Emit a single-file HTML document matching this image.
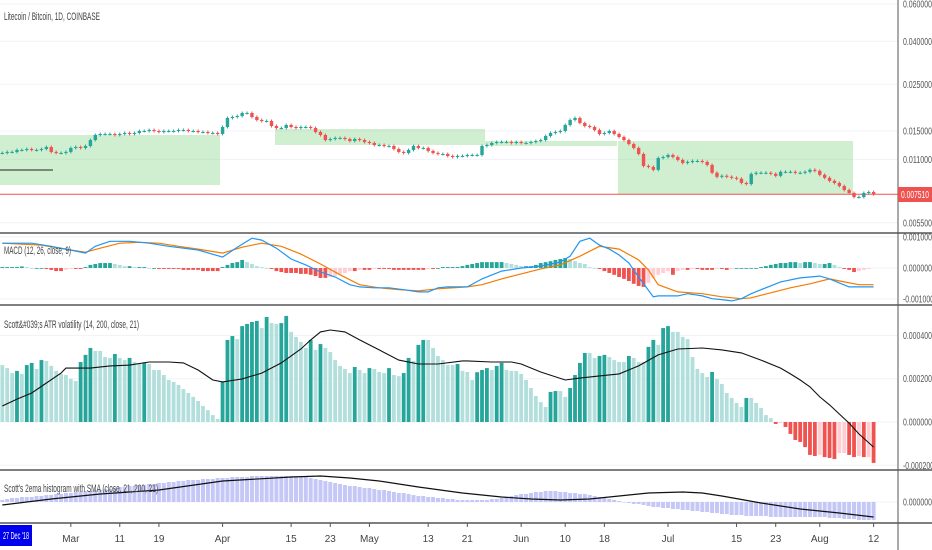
<!DOCTYPE html>
<html><head><meta charset="utf-8"><style>
html,body{margin:0;padding:0;background:#fff;}
svg{display:block;font-family:"Liberation Sans Narrow","Liberation Sans",sans-serif;}
</style></head><body>
<svg id="chart" width="932" height="550" viewBox="0 0 932 550" xmlns="http://www.w3.org/2000/svg">
<rect x="0" y="0" width="932" height="550" fill="#fff"/>
<g id="grid"></g>
<g id="boxes"></g>
<g id="candles"></g>
<g id="macd"></g>
<g id="atr"></g>
<g id="ema"></g>
<g id="axes"></g>
<text x="4" y="20" font-size="11" fill="#444" textLength="96" lengthAdjust="spacingAndGlyphs">Litecoin / Bitcoin, 1D, COINBASE</text>
<text x="4" y="254" font-size="11" fill="#444" textLength="67" lengthAdjust="spacingAndGlyphs">MACD (12, 26, close, 9)</text>
<text x="4" y="328" font-size="11" fill="#444" textLength="135" lengthAdjust="spacingAndGlyphs">Scott&amp;#039;s ATR volatility (14, 200, close, 21)</text>
<text x="4" y="492" font-size="11" fill="#444" textLength="154" lengthAdjust="spacingAndGlyphs">Scott's 2ema histogram with SMA (close, 21, 200, 21)</text>
</svg>
<script>
// ---- data ----
const closes = [.01180,.01193,.01193,.01219,.01219,.01232,.01219,.01219,.01232,.01259,
.01193,.01180,.01180,.01193,.01246,.01259,.01246,.01273,.01359,.01436,
.01452,.01452,.01452,.01436,.01452,.01468,.01452,.01468,.01500,.01500,
.01516,.01500,.01484,.01500,.01500,.01500,.01516,.01516,.01500,.01500,
.01484,.01484,.01468,.01468,.01452,
.01567,.01729,.01748,.01767,.01826,.01826,.01748,.01692,.01673,.01673,
.01584,.01550,.01550,.01602,.01567,.01550,.01567,.01567,.01550,.01484,
.01436,.01359,.01374,.01390,.01390,.01374,.01345,.01374,.01359,.01330,
.01316,.01287,.01287,.01273,.01273,.01232,.01193,.01180,.01219,.01273,
.01246,.01246,.01206,.01180,.01167,.01167,.01142,.01129,.01142,.01142,
.01154,.01154,.01154,.01273,.01287,.01316,.01330,.01330,.01330,.01316,
.01330,.01316,.01316,.01330,.01345,.01359,.01420,.01468,.01484,.01500,
.01602,.01692,.01729,.01637,.01584,.01567,.01516,.01452,.01468,.01500,
.01452,.01405,.01359,.01301,.01246,.01167,.01024,.01013,.00981,.01117,
.01129,.01154,.01129,.01093,.01058,.01070,.01081,.01081,.01070,.01035,
.00950,.00909,.00919,.00909,.00899,.00890,.00850,.00840,.00939,.00950,
.00950,.00950,.00939,.00919,.00960,.00960,.00960,.00950,.00950,.00960,
.00981,.00970,.00929,.00899,.00870,.00850,.00822,.00787,.00762,.00729,
.00729,.00762,.00770,.00751];
const priceTicks = [0.06,0.04,0.025,0.015,0.011,0.0055];
const priceTickLabels = ["0.060000","0.040000","0.025000","0.015000","0.011000","0.005500"];
const lastPrice = 0.00751;
// MACD values in 1e-5 units
const macdHist = [3,3,3,3,5,3,0,0,0,-3,-6,-10,-10,-6,-3,-3,-3,3,10,13,16,16,16,13,10,6,6,3,3,3,
0,0,-3,-3,-3,-3,-3,-6,-6,-6,-6,-10,-10,-10,-10,3,10,16,19,26,19,13,6,3,0,-3,-10,-13,-16,-16,
-16,-19,-19,-22,-26,-32,-32,-29,-26,-19,-16,-10,-10,-6,-6,-6,-3,-3,-3,-3,-6,-6,-6,-6,-6,-6,-6,-3,-3,0,
3,3,3,3,6,10,13,16,19,19,19,19,19,16,13,10,6,6,6,10,16,19,22,26,29,32,29,22,16,13,
3,0,-3,-10,-16,-22,-29,-35,-42,-51,-58,-61,-48,-32,-22,-16,-10,-22,-10,-6,-6,-3,-3,-6,-6,-6,-3,-3,-6,-3,
0,0,0,0,0,3,6,10,13,16,16,19,19,16,19,19,16,13,13,16,10,3,-3,-6,-13,-10,-6,-3];
const macdDays = [0,6,10,13,17,19,22,26,30,34,40,45,48,51,53,56,59,62,65,68,71,73,76,79,82,85,87,89,91,95,98,102,106,110,114,116,118,120,122,124,126,128,130,133,134,138,140,143,145,147,149,151,153,155,159,163,167,169,171,173,178];
const macdLine = [80,80,70,61,48,70,86,86,80,70,58,35,67,96,90,64,29,10,-13,-29,-54,-61,-64,-64,-70,-77,-77,-64,-61,-61,-35,-10,0,6,19,38,86,96,74,61,42,16,-29,-93,-90,-90,-83,-90,-99,-102,-106,-99,-83,-70,-45,-32,-26,-35,-48,-61,-61];
const signalDays = [0,8,14,17,20,24,28,32,36,40,45,49,53,57,61,65,69,73,77,81,85,89,95,98,102,106,110,114,118,122,126,130,132,134,138,143,147,151,153,157,161,165,169,172,175,178];
const signalLine = [80,74,58,51,64,80,83,80,70,61,48,67,80,70,45,13,-22,-54,-64,-70,-74,-67,-61,-54,-35,-19,-3,10,38,70,61,26,-6,-54,-77,-83,-93,-99,-96,-80,-64,-51,-35,-45,-54,-54];
const macdTickLabels = ["0.001000","0.000000","-0.001000"];
const macdTicks = [100,0,-100];
// ATR values in 1e-6 units
const atrVals = [263,249,226,236,222,263,273,245,286,282,259,236,222,217,199,189,277,310,342,328,
328,300,296,314,296,286,296,277,268,275,268,240,240,217,194,185,171,152,134,116,
97,74,55,32,14,185,379,397,383,443,453,462,467,434,485,457,453,457,490,416,
393,370,342,379,333,360,342,323,286,259,245,226,254,240,226,249,245,231,226,249,
217,212,226,296,282,356,379,379,342,305,286,263,263,268,236,231,194,230,240,
249,240,259,273,240,236,236,222,194,157,120,92,69,139,143,143,116,157,217,273,
319,319,296,305,310,300,286,277,277,305,296,277,277,347,379,356,434,443,416,416,
393,383,300,245,226,208,231,199,176,134,111,88,69,111,111,88,65,32,18,-9,
-5,-23,-55,-83,-92,-116,-152,-157,-152,-162,-166,-171,-143,-143,-152,-162,-157,-162,-162,-189];
const atrSmaDays = [0,3,6,9,12,13,15,18,22,26,30,34,37,40,43,45,49,53,57,61,63,65,67,70,73,77,81,85,89,94,95,100,104,106,110,115,118,122,126,130,134,138,143,147,151,155,159,161,163,165,167,169,171,173,175,178];
const atrSma = [74,106,134,180,226,249,249,249,259,263,277,277,273,240,194,185,199,226,273,337,379,416,425,416,379,333,286,268,268,282,282,277,277,268,231,194,203,213,222,259,310,337,342,333,319,286,249,222,194,162,116,79,37,-5,-55,-116];
const atrTicks = [400,200,0,-200];
const atrTickLabels = ["0.000400","0.000200","0.000000","-0.000200"];
// 2ema histogram values in 1e-5 units
const emaHist = [2,3,4,4,5,5,5,6,6,7,7,8,8,9,9,10,10,11,11,12,12,13,13,14,15,15,16,16,17,17,18,18,19,
19,20,20,21,21,22,22,22,23,23,23,24,24,24,25,25,25,25,26,26,26,26,26,26,26,26,26,26,
25,25,24,23,22,21,20,19,18,17,16,16,15,14,14,13,12,12,11,10,9,9,8,7,6,
6,5,5,4,4,3,3,2,2,2,2,2,2,2,3,3,4,5,6,7,8,8,9,10,10,11,11,11,10,10,9,
9,8,8,7,6,5,4,3,2,1,0,-1,-2,-2,-3,-4,-5,-5,-6,-6,-7,-7,-8,-8,
-9,-9,-10,-10,-11,-11,-12,-12,-13,-13,-13,-14,-14,-14,-14,-14,-15,-15,-15,-15,-15,-15,-15,-15,-15,
-15,-15,-15,-16,-16,-16,-17,-17,-17,-18,-18,-18,-18];
const emaSmaDays = [0,10,20,32,45,59,65,71,77,85,94,102,108,114,120,126,132,139,143,147,155,163,171,178];
const emaSma = [-3,3,8,12,21,25,26,24,21,15,9,5,3,2,3,6,9,10,9,6,-1,-7,-11,-15];
const timeLabels = ["Mar","11","19","Apr","15","23","May","13","21","Jun","10","18","Jul","15","23","Aug","12"];
const timeLabelDays = [14,24,32,45,59,67,75,87,95,106,115,123,136,150,158,167,178];

// ---- scales ----
const NS="http://www.w3.org/2000/svg";
const step=4.895;
const xOf=i=>2.3+i*step;
const yPrice=v=>131+(Math.log(0.015)-Math.log(v))*91.5;
const yMacd=v=>268-v*0.31;
const yAtr=v=>422-v*0.2165;
const yEma=v=>502-v;
const G=c=>'rgb(38,166,154)';
function el(tag,attrs,parent){const e=document.createElementNS(NS,tag);for(const k in attrs)e.setAttribute(k,attrs[k]);parent.appendChild(e);return e;}
const grid=document.getElementById('grid'),axes=document.getElementById('axes');

// grid + price axis
priceTicks.forEach((t,k)=>{const y=yPrice(t);
 const l=el('line',{x1:0,x2:898,y1:y,y2:y,stroke:'#f0f3fa'},grid);
 
 
 const tx=el('text',{x:903,y:y+3.5,'font-size':10,fill:'#555',textLength:29,lengthAdjust:'spacingAndGlyphs'},axes);
 tx.textContent=priceTickLabels[k];
 
 
});
// boxes
const boxes=document.getElementById('boxes');
[[0,135,220,50],[275,129,210,16],[485,141,132,5],[618,141,235,53]].forEach(b=>{
 const r=el('rect',{x:b[0],y:b[1],width:b[2],height:b[3],fill:'rgba(120,210,120,0.35)'},boxes);
 
 
});
el('line',{x1:0,x2:53,y1:170,y2:170,stroke:'#222'},boxes);
const pl=el('line',{x1:0,x2:898,y1:yPrice(lastPrice),y2:yPrice(lastPrice),stroke:'#ef5350','stroke-width':1},boxes);



// candles
const cg=document.getElementById('candles');
closes.forEach((c,i)=>{const o=i?closes[i-1]:c;const up=c>=o;const col=up?'#26a69a':'#ef5350';
 const y1=yPrice(Math.max(o,c)),y2=yPrice(Math.min(o,c));const x=xOf(i);
 el('line',{x1:x,x2:x,y1:y1-1.5,y2:y2+1.5,stroke:col},cg);
 const r=el('rect',{x:x-1.7,y:y1,width:3.4,height:Math.max(1,y2-y1),fill:col},cg);
 
 
});

// MACD
const mg=document.getElementById('macd');
macdTicks.forEach((t,k)=>{const y=yMacd(t);
 el('line',{x1:0,x2:898,y1:y,y2:y,stroke:'#f0f3fa'},grid);
 const tx=el('text',{x:903,y:y+3.5,'font-size':10,fill:'#555',textLength:k==2?31:29,lengthAdjust:'spacingAndGlyphs'},axes);
 tx.textContent=macdTickLabels[k];
 
 
});
macdHist.forEach((v,i)=>{const p=i?macdHist[i-1]:0;let col;
 if(v>=0)col=v>=p?'#26a69a':'#b2dfdb';else col=v<=p?'#ef5350':'#ffcdd2';
 const y0=yMacd(0),y=yMacd(v);
 const r=el('rect',{x:xOf(i)-1.9,y:Math.min(y0,y),width:3.8,height:Math.max(0.8,Math.abs(y-y0)),fill:col},mg);
 
 
});
function poly(days,vals,ys,color,w,parent,name){const pts=days.map((d,k)=>xOf(d).toFixed(1)+','+ys(vals[k]).toFixed(1)).join(' ');
 const p=el('polyline',{points:pts,fill:'none',stroke:color,'stroke-width':w},parent);
 
 }
poly(signalDays,signalLine,yMacd,'#f57c00',1.2,mg,'signal-line');
poly(macdDays,macdLine,yMacd,'#2196f3',1.2,mg,'macd-line');

// ATR
const ag=document.getElementById('atr');
atrTicks.forEach((t,k)=>{const y=yAtr(t);
 el('line',{x1:0,x2:898,y1:y,y2:y,stroke:'#f0f3fa'},grid);
 const tx=el('text',{x:903,y:y+3.5,'font-size':10,fill:'#555',textLength:k==3?31:29,lengthAdjust:'spacingAndGlyphs'},axes);
 tx.textContent=atrTickLabels[k];
 
 
});
atrVals.forEach((v,i)=>{const p=i?atrVals[i-1]:v;let col;
 if(v>=0)col=v>p?'#26a69a':'#b2dfdb';else col=v<p?'#ef5350':'#ffcdd2';
 const y0=yAtr(0),y=yAtr(v);
 const r=el('rect',{x:xOf(i)-1.9,y:Math.min(y0,y),width:3.8,height:Math.max(0.8,Math.abs(y-y0)),fill:col},ag);
 
 
});
poly(atrSmaDays,atrSma,yAtr,'#111',1.1,ag,'atr-sma-line');

// 2ema
const eg=document.getElementById('ema');
el('line',{x1:0,x2:898,y1:yEma(0),y2:yEma(0),stroke:'#f0f3fa'},grid);
const et=el('text',{x:903,y:yEma(0)+3.5,'font-size':10,fill:'#555',textLength:29,lengthAdjust:'spacingAndGlyphs'},axes);
et.textContent="0.000000";


emaHist.forEach((v,i)=>{const y0=yEma(0),y=yEma(v);
 const r=el('rect',{x:xOf(i)-2,y:Math.min(y0,y),width:4,height:Math.max(0.5,Math.abs(y-y0)),fill:'#c5c8f7'},eg);
 
 
});
poly(emaSmaDays,emaSma,yEma,'#111',1.2,eg,'ema-sma-line');

// pane separators & axis
[233,305,470,523].forEach(y=>el('line',{x1:0,x2:932,y1:y,y2:y,stroke:'#555','stroke-width':1.5},axes));
el('line',{x1:898,x2:898,y1:0,y2:550,stroke:'#555','stroke-width':1},axes);
const lb=el('rect',{x:898,y:187,width:34,height:15,fill:'#ef5350'},axes);


const lt=el('text',{x:901,y:198,'font-size':10,fill:'#fff',textLength:28,lengthAdjust:'spacingAndGlyphs'},axes);
lt.textContent="0.007510";
timeLabels.forEach((t,k)=>{const x=xOf(timeLabelDays[k]);
 el('line',{x1:x,x2:x,y1:523,y2:527,stroke:'#555'},axes);
 const tx=el('text',{x:x,y:542,'font-size':10,fill:'#444','text-anchor':'middle'},axes);
 tx.textContent=t;
 
 
});
const db=el('rect',{x:0,y:525,width:32,height:21,fill:'#0000ee'},axes);


const dt=el('text',{x:3,y:539,'font-size':10,fill:'#fff',textLength:26,lengthAdjust:'spacingAndGlyphs'},axes);
dt.textContent="27 Dec '18";
</script>
</body></html>
